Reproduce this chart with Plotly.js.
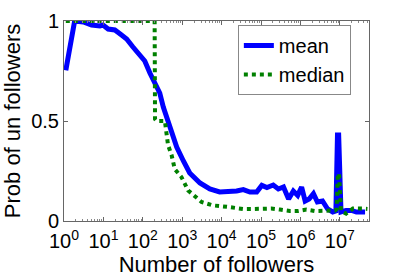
<!DOCTYPE html>
<html>
<head>
<meta charset="utf-8">
<script src="https://cdn.plot.ly/plotly-3.0.1.min.js"></script>
<style>html,body{margin:0;padding:0;background:#fff;}#chart{width:407px;height:277px;}</style>
</head>
<body>
<div id="chart"></div>
<script>
// x values stored as log10(number of followers)
var meanLogX = [0.046, 0.27, 0.49, 0.70, 0.91, 0.99, 1.12, 1.29, 1.46, 1.59, 1.75, 1.92, 2.05, 2.18, 2.31, 2.43, 2.52, 2.69, 2.86, 3.03, 3.19, 3.45, 3.70, 3.95, 4.04, 4.21, 4.38, 4.55, 4.72, 4.89, 5.02, 5.15, 5.31, 5.44, 5.57, 5.70, 5.82, 5.93, 6.03, 6.12, 6.22, 6.33, 6.43, 6.56, 6.69, 6.82, 6.90, 6.94, 6.97, 7.03, 7.16, 7.30, 7.42, 7.64];
var meanY    = [0.753, 1.0, 0.995, 0.98, 0.975, 0.98, 0.96, 0.955, 0.93, 0.91, 0.87, 0.83, 0.80, 0.74, 0.68, 0.64, 0.57, 0.47, 0.37, 0.30, 0.24, 0.19, 0.16, 0.145, 0.145, 0.15, 0.15, 0.157, 0.145, 0.145, 0.178, 0.167, 0.18, 0.16, 0.17, 0.11, 0.15, 0.128, 0.17, 0.10, 0.11, 0.137, 0.095, 0.10, 0.06, 0.045, 0.05, 0.43, 0.43, 0.045, 0.053, 0.053, 0.045, 0.045];
var medianLogX = [0.046, 2.30, 2.31, 2.35, 2.56, 2.64, 2.73, 2.81, 2.98, 3.15, 3.49, 3.78, 4.17, 4.55, 4.80, 5.05, 5.26, 5.48, 5.73, 5.94, 6.15, 6.36, 6.69, 6.88, 6.92, 6.95, 6.98, 7.03, 7.16, 7.33, 7.59, 7.70];
var medianY    = [1.0, 1.0, 0.51, 0.50, 0.50, 0.38, 0.33, 0.26, 0.22, 0.153, 0.095, 0.078, 0.07, 0.06, 0.06, 0.062, 0.062, 0.057, 0.05, 0.05, 0.057, 0.05, 0.053, 0.053, 0.06, 0.237, 0.237, 0.05, 0.037, 0.062, 0.062, 0.06];
var xTickExp = [0, 1, 2, 3, 4, 5, 6, 7];
var yTickVals = [0, 0.5, 1];
var yTickText = ['0', '0.5', '1'];
var seriesNames = ['mean', 'median'];

function pow10(arr){ return arr.map(function(v){ return Math.pow(10, v); }); }
var xTickVals = pow10(xTickExp);
var xTickText = xTickExp.map(function(e){ return '10<sup>' + e + '</sup>'; });

var font = 'Liberation Sans, Arial, Helvetica, sans-serif';
var traces = [
  {x: pow10(meanLogX), y: meanY, mode: 'lines', name: seriesNames[0],
   line: {color: '#0000ff', width: 5}},
  {x: pow10(medianLogX), y: medianY, mode: 'lines', name: seriesNames[1],
   line: {color: '#008000', width: 4, dash: 'dot'}}
];
var axisCommon = {showgrid: false, zeroline: false, showline: true, linecolor: '#666', linewidth: 1,
  ticks: 'inside', ticklen: 4, tickcolor: '#666', mirror: 'ticks'};
var layout = {
  width: 407, height: 277,
  margin: {l: 64, r: 38, t: 21, b: 56},
  paper_bgcolor: '#fff', plot_bgcolor: '#fff',
  font: {family: font, color: '#000'},
  showlegend: true,
  legend: {x: 0.57, y: 0.98, xanchor: 'left', yanchor: 'top', bgcolor: '#fff',
    bordercolor: '#888', borderwidth: 1, font: {family: font, size: 20, color: '#000'},
    tracegroupgap: 0},
  xaxis: Object.assign({}, axisCommon, {type: 'log', range: [0, 7.74],
    tickmode: 'array', tickvals: xTickVals, ticktext: xTickText, ticklabelstandoff: 2,
    tickfont: {family: font, size: 20, color: '#000'},
    minor: {ticks: 'inside', ticklen: 2, tickcolor: '#888', dtick: 'D1', showgrid: false},
    title: {text: 'Number of followers', font: {family: font, size: 22, color: '#000'}, standoff: 0}}),
  yaxis: Object.assign({}, axisCommon, {range: [0, 1], tickmode: 'array', tickvals: yTickVals, ticktext: yTickText,
    tickfont: {family: font, size: 20, color: '#000'},
    title: {text: 'Prob of un followers', font: {family: font, size: 22, color: '#000'}, standoff: 6}})
};
Plotly.newPlot('chart', traces, layout, {staticPlot: true, displayModeBar: false});
</script>
</body>
</html>
